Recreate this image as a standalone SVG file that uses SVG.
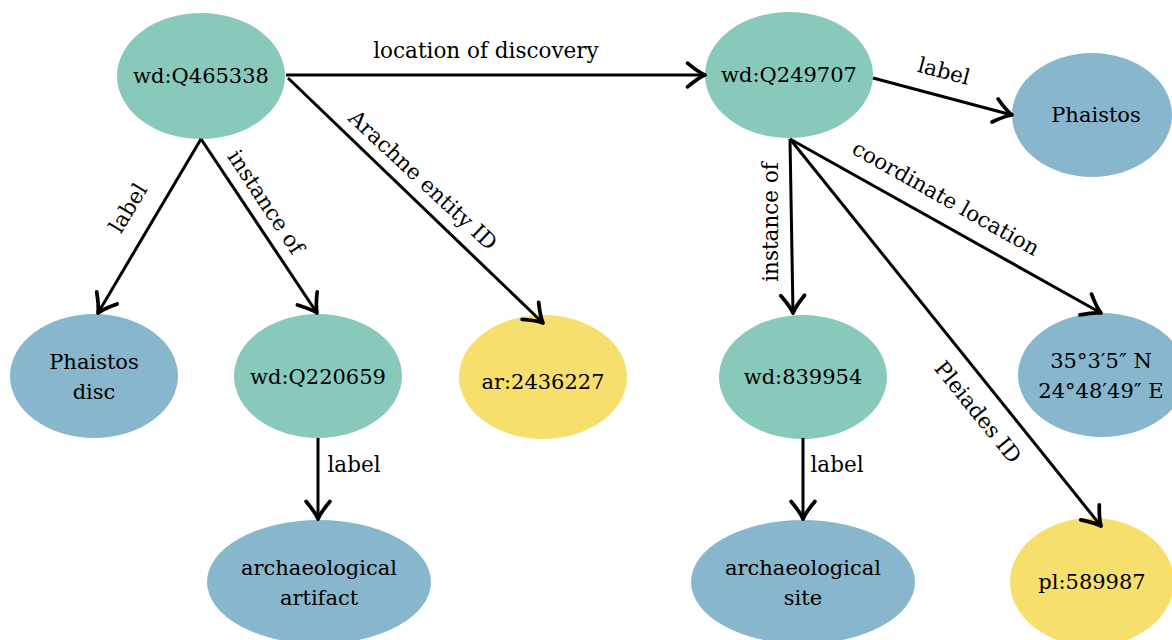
<svg xmlns="http://www.w3.org/2000/svg" width="1172" height="640" viewBox="0 0 1172 640">
  <defs>
    <marker id="arr" markerUnits="userSpaceOnUse" markerWidth="30" markerHeight="30" viewBox="-16 -12 20 24" refX="0" refY="0" orient="auto">
      <path d="M -14 -9.5 Q -5 -2 0 0 Q -5 2 -14 9.5" fill="none" stroke="#000" stroke-width="3" stroke-linecap="round" stroke-linejoin="round"/>
    </marker>
  </defs>
  <style>
    .ent { fill: #89c9bb; }
    .lit { fill: #88b6cc; }
    .ext { fill: #f7df6e; }
    text { font-family: "DejaVu Serif", "Liberation Serif", serif; font-size: 21px; fill: #000; text-anchor: middle; dominant-baseline: central; }
    .edge { stroke: #000; stroke-width: 3; fill: none; marker-end: url(#arr); }
    .elabel { font-size: 21.5px; }
  </style>

  <g id="n-Q465338">
    <ellipse class="ent" cx="201" cy="76" rx="84" ry="63"/>
    <text x="201" y="76">wd:Q465338</text>
  </g>
  <g id="n-Q249707">
    <ellipse class="ent" cx="789" cy="75" rx="84" ry="63"/>
    <text x="789" y="75">wd:Q249707</text>
  </g>
  <g id="n-phaistos">
    <ellipse class="lit" cx="1092" cy="115" rx="80" ry="62"/>
    <text x="1096" y="115">Phaistos</text>
  </g>
  <g id="n-phaistos-disc">
    <ellipse class="lit" cx="94" cy="376" rx="84" ry="62"/>
    <text x="94" y="362">Phaistos</text>
    <text x="94" y="392">disc</text>
  </g>
  <g id="n-Q220659">
    <ellipse class="ent" cx="318" cy="376" rx="84" ry="62"/>
    <text x="318" y="377">wd:Q220659</text>
  </g>
  <g id="n-ar2436227">
    <ellipse class="ext" cx="543" cy="377" rx="84" ry="62"/>
    <text x="543" y="382">ar:2436227</text>
  </g>
  <g id="n-839954">
    <ellipse class="ent" cx="803" cy="377" rx="84" ry="62"/>
    <text x="803" y="377">wd:839954</text>
  </g>
  <g id="n-coords">
    <ellipse class="lit" cx="1102" cy="375" rx="84" ry="62"/>
    <text x="1101" y="361">35°3′5″ N</text>
    <text x="1101" y="391">24°48′49″ E</text>
  </g>
  <g id="n-artifact">
    <ellipse class="lit" cx="319" cy="582" rx="112" ry="62"/>
    <text x="319" y="568">archaeological</text>
    <text x="319" y="598">artifact</text>
  </g>
  <g id="n-site">
    <ellipse class="lit" cx="803" cy="582" rx="112" ry="62"/>
    <text x="803" y="568">archaeological</text>
    <text x="803" y="598">site</text>
  </g>
  <g id="n-pl589987">
    <ellipse class="ext" cx="1092" cy="582" rx="82" ry="64"/>
    <text x="1092" y="582">pl:589987</text>
  </g>

  <!-- connectors, drawn over the nodes so arrow tips stay visible -->
  <g id="edges">
    <line class="edge" x1="286" y1="75" x2="705" y2="75"/>
    <line class="edge" x1="201" y1="139" x2="98" y2="313"/>
    <line class="edge" x1="201" y1="139" x2="317" y2="313"/>
    <line class="edge" x1="288" y1="78" x2="543" y2="323"/>
    <line class="edge" x1="318" y1="438" x2="318" y2="519"/>
    <line class="edge" x1="873" y1="78" x2="1012" y2="115"/>
    <line class="edge" x1="790" y1="139" x2="793" y2="313"/>
    <line class="edge" x1="790" y1="139" x2="1101" y2="313"/>
    <line class="edge" x1="790" y1="139" x2="1101" y2="526"/>
    <line class="edge" x1="803" y1="438" x2="803" y2="519"/>

    <text class="elabel" x="486" y="50">location of discovery</text>
    <text class="elabel" transform="translate(128,208) rotate(-59)">label</text>
    <text class="elabel" transform="translate(266,202) rotate(56.5)">instance of</text>
    <text class="elabel" transform="translate(423,180) rotate(43)">Arachne entity ID</text>
    <text class="elabel" x="354" y="464">label</text>
    <text class="elabel" transform="translate(944,71) rotate(15)">label</text>
    <text class="elabel" transform="translate(770,222) rotate(-90)">instance of</text>
    <text class="elabel" transform="translate(946,198) rotate(29.4)">coordinate location</text>
    <text class="elabel" transform="translate(978,412) rotate(51)">Pleiades ID</text>
    <text class="elabel" x="837" y="464">label</text>
  </g>
</svg>
